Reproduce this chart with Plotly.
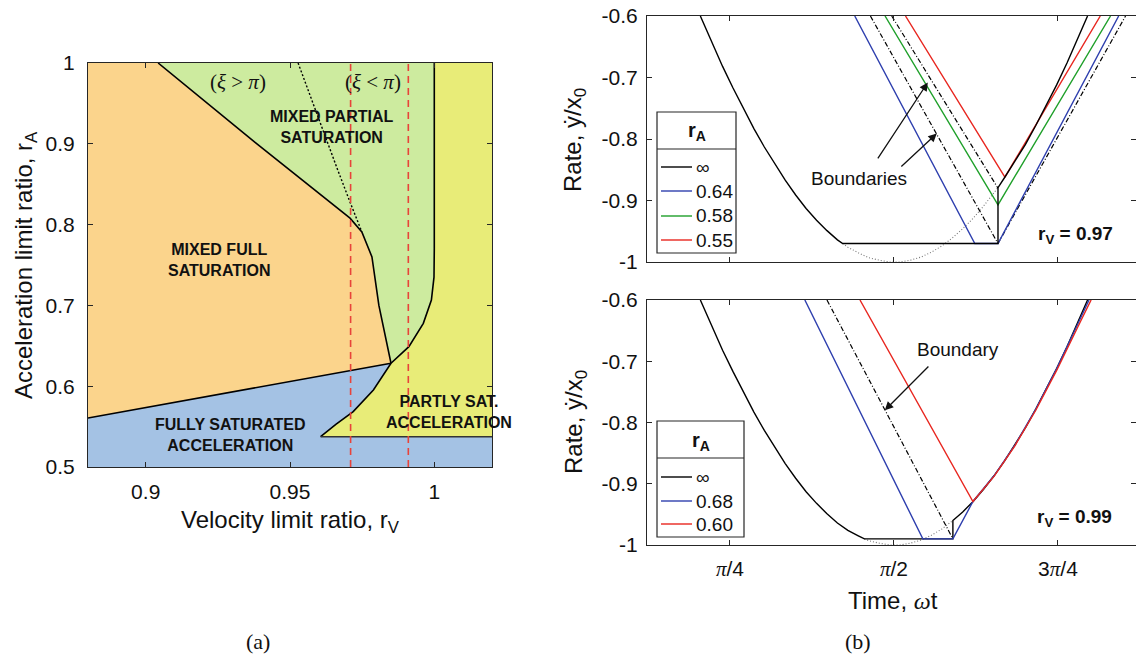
import plotly.graph_objects as go

W, H = 1136, 658
def px(x): return x / W
def py(y): return 1 - y / H

SANS = "Liberation Sans, Arial, Helvetica, sans-serif"
SERIF = "Liberation Serif, DejaVu Serif, serif"
AX = "#262626"

# ---------------- Panel (a) data ----------------
rv_lim = [0.88, 1.02]
ra_lim = [0.5, 1.0]
# orange / green boundary (top -> triple point)
og_rv = [0.9043, 0.9380, 0.9708, 0.9749, 0.9784, 0.9808, 0.9850]
og_ra = [1.000, 0.9015, 0.808, 0.791, 0.760, 0.700, 0.6284]
# orange / blue boundary
ob_rv = [0.880, 0.985]
ob_ra = [0.5606, 0.6284]
# partly-saturated curve (tip -> triple point -> vertical at rV=1)
cv_rv = [0.9606, 0.9660, 0.9719, 0.9789, 0.9850, 0.9912, 0.9962, 0.9990, 0.9999, 1.0000, 1.0000]
cv_ra = [0.5375, 0.5530, 0.5685, 0.5953, 0.6284, 0.6489, 0.6778, 0.7067, 0.7350, 0.7700, 1.0000]
TRIPLE = 4
# xi = pi dotted line
xi_rv = [0.9528, 0.9600, 0.9665, 0.9710, 0.9749]
xi_ra = [1.000, 0.930, 0.868, 0.826, 0.791]
psat_bottom = 0.5375
red_rv = [0.971, 0.991]

# ---------------- Panel (b) data ----------------
# top: r_V = 0.97
inf97_t = [0.6435, 0.70, 0.75, 0.80, 0.85, 0.90, 0.95, 1.00, 1.05, 1.10, 1.15, 1.20, 1.25, 1.30, 1.3252,
           2.069, 2.069, 2.10, 2.15, 2.20, 2.25, 2.30, 2.35, 2.40, 2.45, 2.498]
inf97_y = [-0.600, -0.644, -0.682, -0.717, -0.751, -0.783, -0.813, -0.841, -0.867, -0.891, -0.913, -0.932, -0.949, -0.964, -0.970,
           -0.970, -0.879, -0.863, -0.837, -0.809, -0.778, -0.746, -0.712, -0.676, -0.638, -0.600]
ref97_t = [1.3252, 1.35, 1.40, 1.45, 1.50, 1.55, 1.60, 1.65, 1.70, 1.75, 1.80, 1.85, 1.90, 1.95, 2.00, 2.05, 2.069]
ref97_y = [-0.970, -0.976, -0.985, -0.993, -0.997, -1.000, -1.000, -0.997, -0.992, -0.984, -0.974, -0.961, -0.946, -0.929, -0.909, -0.887, -0.879]
a64_t = [1.383, 1.958, 2.069, 2.647]
a64_y = [-0.600, -0.970, -0.970, -0.600]
a58_t = [1.528, 2.069, 2.608]
a58_y = [-0.600, -0.907, -0.600]
a55_t = [1.626, 2.102, 2.559]
a55_y = [-0.600, -0.862, -0.600]
bndA_t = [1.458, 2.069, 2.680]
bndA_y = [-0.600, -0.970, -0.600]
bndB_t = [1.560, 2.069]
bndB_y = [-0.600, -0.880]

# bottom: r_V = 0.99
inf99_t = [0.6435, 0.70, 0.75, 0.80, 0.85, 0.90, 0.95, 1.00, 1.05, 1.10, 1.15, 1.20, 1.25, 1.30, 1.35, 1.40, 1.4293,
           1.853, 1.853, 1.90, 1.95, 2.00, 2.05, 2.10, 2.15, 2.20, 2.25, 2.30, 2.35, 2.40, 2.45, 2.498]
inf99_y = [-0.600, -0.644, -0.682, -0.717, -0.751, -0.783, -0.813, -0.841, -0.867, -0.891, -0.913, -0.932, -0.949, -0.964, -0.976, -0.985, -0.990,
           -0.990, -0.960, -0.946, -0.929, -0.909, -0.887, -0.863, -0.837, -0.809, -0.778, -0.746, -0.712, -0.676, -0.638, -0.600]
ref99_t = [1.4293, 1.45, 1.50, 1.55, 1.60, 1.65, 1.70, 1.75, 1.80, 1.853]
ref99_y = [-0.990, -0.993, -0.997, -1.000, -1.000, -0.997, -0.992, -0.984, -0.974, -0.960]
a68_t = [1.144, 1.709, 1.853, 1.949, 2.05, 2.15, 2.25, 2.35, 2.45, 2.505]
a68_y = [-0.600, -0.990, -0.990, -0.929, -0.887, -0.837, -0.778, -0.712, -0.640, -0.600]
a60_t = [1.408, 1.949, 2.05, 2.15, 2.25, 2.35, 2.45, 2.515]
a60_y = [-0.600, -0.929, -0.888, -0.838, -0.780, -0.715, -0.645, -0.600]
bnd99_t = [1.250, 1.853]
bnd99_y = [-0.600, -0.990]

t_lim = [0.388, 2.730]
rate_lim = [-1.0, -0.6]
rate_ticks = [-1.0, -0.9, -0.8, -0.7, -0.6]
rate_ticktext = ["-1", "-0.9", "-0.8", "-0.7", "-0.6"]
pi_sp = '<span style="font-family:Liberation Serif"><i>π</i></span>'
t_ticks = [0.7854, 1.5708, 2.3562]
t_ticktext = [pi_sp + "/4", pi_sp + "/2", "3" + pi_sp + "/4"]

BLACK = "#000000"
BLUE = "#2E3FAE"
GREEN = "#1FA02A"
RED = "#E8261F"

C_ORANGE = "#FBD48C"
C_GREEN = "#CDEB9F"
C_BLUE = "#A4C2E4"
C_YELLOW = "#E8EC78"

fig = go.Figure()

def poly(x, y, color):
    fig.add_trace(go.Scatter(x=x, y=y, mode="lines", fill="toself", fillcolor=color,
                             line=dict(width=0, color=color), hoverinfo="skip", showlegend=False,
                             xaxis="x", yaxis="y"))

def line(x, y, color, width=1.5, dash="solid", ax="", opacity=1.0):
    fig.add_trace(go.Scatter(x=x, y=y, mode="lines", line=dict(color=color, width=width, dash=dash),
                             hoverinfo="skip", showlegend=False, opacity=opacity,
                             xaxis="x" + ax, yaxis="y" + ax))

# background regions
poly([rv_lim[0], rv_lim[0]] + og_rv + [rv_lim[0]],
     [ra_lim[0], ra_lim[1]] + og_ra + [ob_ra[0]], C_ORANGE)
poly(og_rv + cv_rv[TRIPLE:], og_ra + cv_ra[TRIPLE:], C_GREEN)
poly([rv_lim[0], ob_rv[0]] + cv_rv[TRIPLE::-1] + [rv_lim[1], rv_lim[1]],
     [ra_lim[0], ob_ra[0]] + cv_ra[TRIPLE::-1] + [psat_bottom, ra_lim[0]], C_BLUE)
poly(cv_rv + [rv_lim[1], rv_lim[1]], cv_ra + [ra_lim[1], psat_bottom], C_YELLOW)

# boundary lines
line(og_rv, og_ra, BLACK, 1.6)
line(ob_rv, ob_ra, BLACK, 1.6)
line(cv_rv, cv_ra, BLACK, 1.6)
line([cv_rv[0], rv_lim[1]], [psat_bottom, psat_bottom], "#333333", 1.4)
line(xi_rv, xi_ra, BLACK, 1.4, dash="2px,2px")
for r in red_rv:
    line([r, r], ra_lim, "#E8433A", 1.6, dash="7px,5px")

# panel (b) top
line(ref97_t, ref97_y, "#777777", 1.1, dash="1px,2px", ax="2")
line(bndA_t, bndA_y, BLACK, 1.2, dash="5px,2px,1px,2px", ax="2")
line(bndB_t, bndB_y, BLACK, 1.2, dash="5px,2px,1px,2px", ax="2")
line(a64_t, a64_y, BLUE, 1.4, ax="2")
line(a58_t, a58_y, GREEN, 1.4, ax="2")
line(a55_t, a55_y, RED, 1.4, ax="2")
line(inf97_t, inf97_y, BLACK, 1.4, ax="2")

# panel (b) bottom
line(ref99_t, ref99_y, "#777777", 1.1, dash="1px,2px", ax="3")
line(bnd99_t, bnd99_y, BLACK, 1.2, dash="5px,2px,1px,2px", ax="3")
line(inf99_t, inf99_y, BLACK, 1.4, ax="3")
line(a68_t, a68_y, BLUE, 1.4, ax="3")
line(a60_t, a60_y, RED, 1.4, ax="3")

axis_common = dict(showgrid=False, zeroline=False, showline=True, linecolor=AX, linewidth=1,
                   mirror="ticks", ticks="inside", ticklen=5, tickcolor=AX, tickwidth=1,
                   tickfont=dict(family=SANS, size=21, color="#111111"), automargin=False)

fig.update_layout(
    width=W, height=H, margin=dict(l=0, r=0, t=0, b=0),
    paper_bgcolor="white", plot_bgcolor="white", showlegend=False,
    xaxis=dict(domain=[px(88), px(492)], range=rv_lim, tickvals=[0.9, 0.95, 1.0],
               ticktext=["0.9", "0.95", "1"], anchor="y", ticklabelstandoff=6, **axis_common),
    yaxis=dict(domain=[py(467), py(63)], range=ra_lim, tickvals=[0.5, 0.6, 0.7, 0.8, 0.9, 1.0],
               ticktext=["0.5", "0.6", "0.7", "0.8", "0.9", "1"], anchor="x", ticklabelstandoff=8, **axis_common),
    xaxis2=dict(domain=[px(647), 1.0], range=t_lim, tickvals=t_ticks, showticklabels=False,
                anchor="y2", **axis_common),
    yaxis2=dict(domain=[py(262), py(16)], range=rate_lim, tickvals=rate_ticks, ticktext=rate_ticktext,
                anchor="x2", ticklabelstandoff=4, **axis_common),
    xaxis3=dict(domain=[px(647), 1.0], range=t_lim, tickvals=t_ticks, ticktext=t_ticktext,
                anchor="y3", ticklabelstandoff=5, **axis_common),
    yaxis3=dict(domain=[py(545), py(300)], range=rate_lim, tickvals=rate_ticks, ticktext=rate_ticktext,
                anchor="x3", ticklabelstandoff=4, **axis_common),
)

ann = []
def text(x, y, s, size, family=SANS, xref="paper", yref="paper", angle=0, xanchor="center", color="#111111"):
    ann.append(dict(x=x, y=y, xref=xref, yref=yref, text=s, showarrow=False, textangle=angle,
                    xanchor=xanchor, yanchor="middle", font=dict(family=family, size=size, color=color)))

# panel (a) labels
xi = '<i>ξ</i>'
pi = '<i>π</i>'
text(0.932, 0.9765, "(" + xi + " &gt; " + pi + ")", 21, SERIF, "x", "y")
text(0.9788, 0.9765, "(" + xi + " &lt; " + pi + ")", 21, SERIF, "x", "y")
text(0.9645, 0.921, "<b>MIXED PARTIAL<br>SATURATION</b>", 16, SANS, "x", "y")
text(0.9257, 0.756, "<b>MIXED FULL<br>SATURATION</b>", 16, SANS, "x", "y")
text(0.9295, 0.5396, "<b>FULLY SATURATED<br>ACCELERATION</b>", 16, SANS, "x", "y")
text(1.0050, 0.568, "<b>PARTLY SAT.<br>ACCELERATION</b>", 16, SANS, "x", "y")

text(px(290), py(521), "Velocity limit ratio, r<sub>V</sub>", 24)
text(px(25), py(265), "Acceleration limit ratio, r<sub>A</sub>", 24, angle=-90)
text(px(258), py(641), "(a)", 22, SERIF)
text(px(858), py(641), "(b)", 22, SERIF)

text(px(575), py(140), "Rate, ẏ/x<sub>0</sub>", 24, angle=-90)
text(px(575), py(422), "Rate, ẏ/x<sub>0</sub>", 24, angle=-90)
text(px(893), py(600), 'Time, <span style="font-family:Liberation Serif"><i>ω</i></span>t', 24)

text(2.442, -0.956, "<b>r<sub>V</sub> = 0.97</b>", 19, SANS, "x2", "y2")
text(2.437, -0.956, "<b>r<sub>V</sub> = 0.99</b>", 19, SANS, "x3", "y3")
text(1.403, -0.864, "Boundaries", 19, SANS, "x2", "y2")
text(1.877, -0.681, "Boundary", 19, SANS, "x3", "y3")

def arrow(hx, hy, tx, ty, ax):
    ann.append(dict(x=hx, y=hy, ax=tx, ay=ty, xref="x" + ax, yref="y" + ax, axref="x" + ax, ayref="y" + ax,
                    text="", showarrow=True, arrowhead=2, arrowsize=1.3, arrowwidth=1.3, arrowcolor="#111111"))

arrow(1.733, -0.708, 1.489, -0.834, "2")
arrow(1.776, -0.791, 1.599, -0.847, "2")
arrow(1.527, -0.780, 1.743, -0.706, "3")

# manual legends
shapes = []
def legend(x0, y0, x1, ysep, y1, header_y, entries_y, labels, colors):
    shapes.append(dict(type="rect", xref="paper", yref="paper", x0=px(x0), x1=px(x1), y0=py(y1), y1=py(y0),
                       line=dict(color=AX, width=1.2), fillcolor="white", layer="above"))
    shapes.append(dict(type="line", xref="paper", yref="paper", x0=px(x0), x1=px(x1), y0=py(ysep), y1=py(ysep),
                       line=dict(color=AX, width=1.2), layer="above"))
    text(px((x0 + x1) / 2), py(header_y), "<b>r<sub>A</sub></b>", 20)
    for yy, lab, col in zip(entries_y, labels, colors):
        shapes.append(dict(type="line", xref="paper", yref="paper", x0=px(x0 + 4), x1=px(x0 + 35),
                           y0=py(yy), y1=py(yy), line=dict(color=col, width=1.4), layer="above"))
        text(px(x0 + 37), py(yy), lab, 19, xanchor="left")

legend(657, 112, 736, 149, 253, 132, [167, 191, 216, 240],
       ["∞", "0.64", "0.58", "0.55"], [BLACK, BLUE, GREEN, RED])
legend(657, 421, 744, 458, 537, 441, [477, 501, 524],
       ["∞", "0.68", "0.60"], [BLACK, BLUE, RED])

fig.update_layout(annotations=ann, shapes=shapes)
fig.write_html("out.html", config={"displayModeBar": False},
               post_script="document.body.style.margin='0';document.body.style.overflow='hidden';")
